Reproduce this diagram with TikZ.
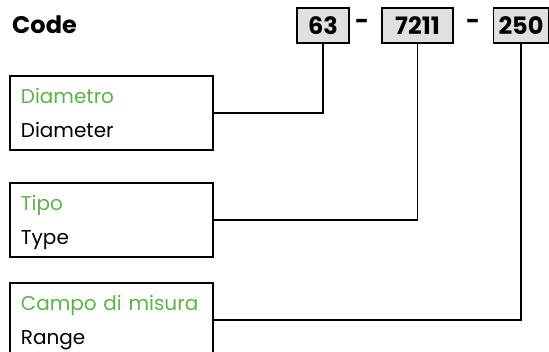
\documentclass[tikz,border=0pt]{standalone}
\usepackage{fontspec}
\setmainfont{Poppins}
\usetikzlibrary{calc}
\definecolor{CodeGreen}{RGB}{92,178,76}
\definecolor{CodeGray}{RGB}{224,224,224}

\begin{document}
\begin{tikzpicture}[x=1pt, y=1pt,
  codebox/.style={draw, line width=1.8pt, fill=CodeGray, inner sep=0pt,
    minimum height=35pt, font=\fontsize{24}{28}\selectfont\bfseries},
  sep/.style={inner sep=0pt, font=\fontsize{24}{28}\selectfont\bfseries},
  descbox/.style={draw, line width=1.8pt, anchor=north west, align=left,
    inner xsep=11pt, inner ysep=0pt, text width=181pt, text height=28pt,
    text depth=46pt, font=\fontsize{20}{34}\selectfont},
  link/.style={line width=1.8pt},
]
\useasboundingbox (0,0) rectangle (549,351);

% code line
\node[sep, anchor=base west] (code) at (12,317) {Code};
\node[codebox, minimum width=52pt] (diam)  at (323,325.5) {63};
\node[codebox, minimum width=71pt] (type)  at (417.5,325.5) {7211};
\node[codebox, minimum width=55pt] (range) at (521,325.5)   {250};
\node[sep] (dashA) at (362,327) {-};
\node[sep] (dashB) at (473,327) {-};

% descriptions
\node[descbox] (diamtxt)  at (9,276) {\textcolor{CodeGreen}{Diametro}\\Diameter};
\node[descbox] (typetxt)  at (9,169) {\textcolor{CodeGreen}{Tipo}\\Type};
\node[descbox] (rangetxt) at (9,69)  {\textcolor{CodeGreen}{Campo di misura}\\Range};

\draw[link] (diamtxt.east)  -| (diam.south);
\draw[link] (typetxt.east)  -| (type.south);
\draw[link] (rangetxt.east) -| (range.south);
\end{tikzpicture}
\end{document}
